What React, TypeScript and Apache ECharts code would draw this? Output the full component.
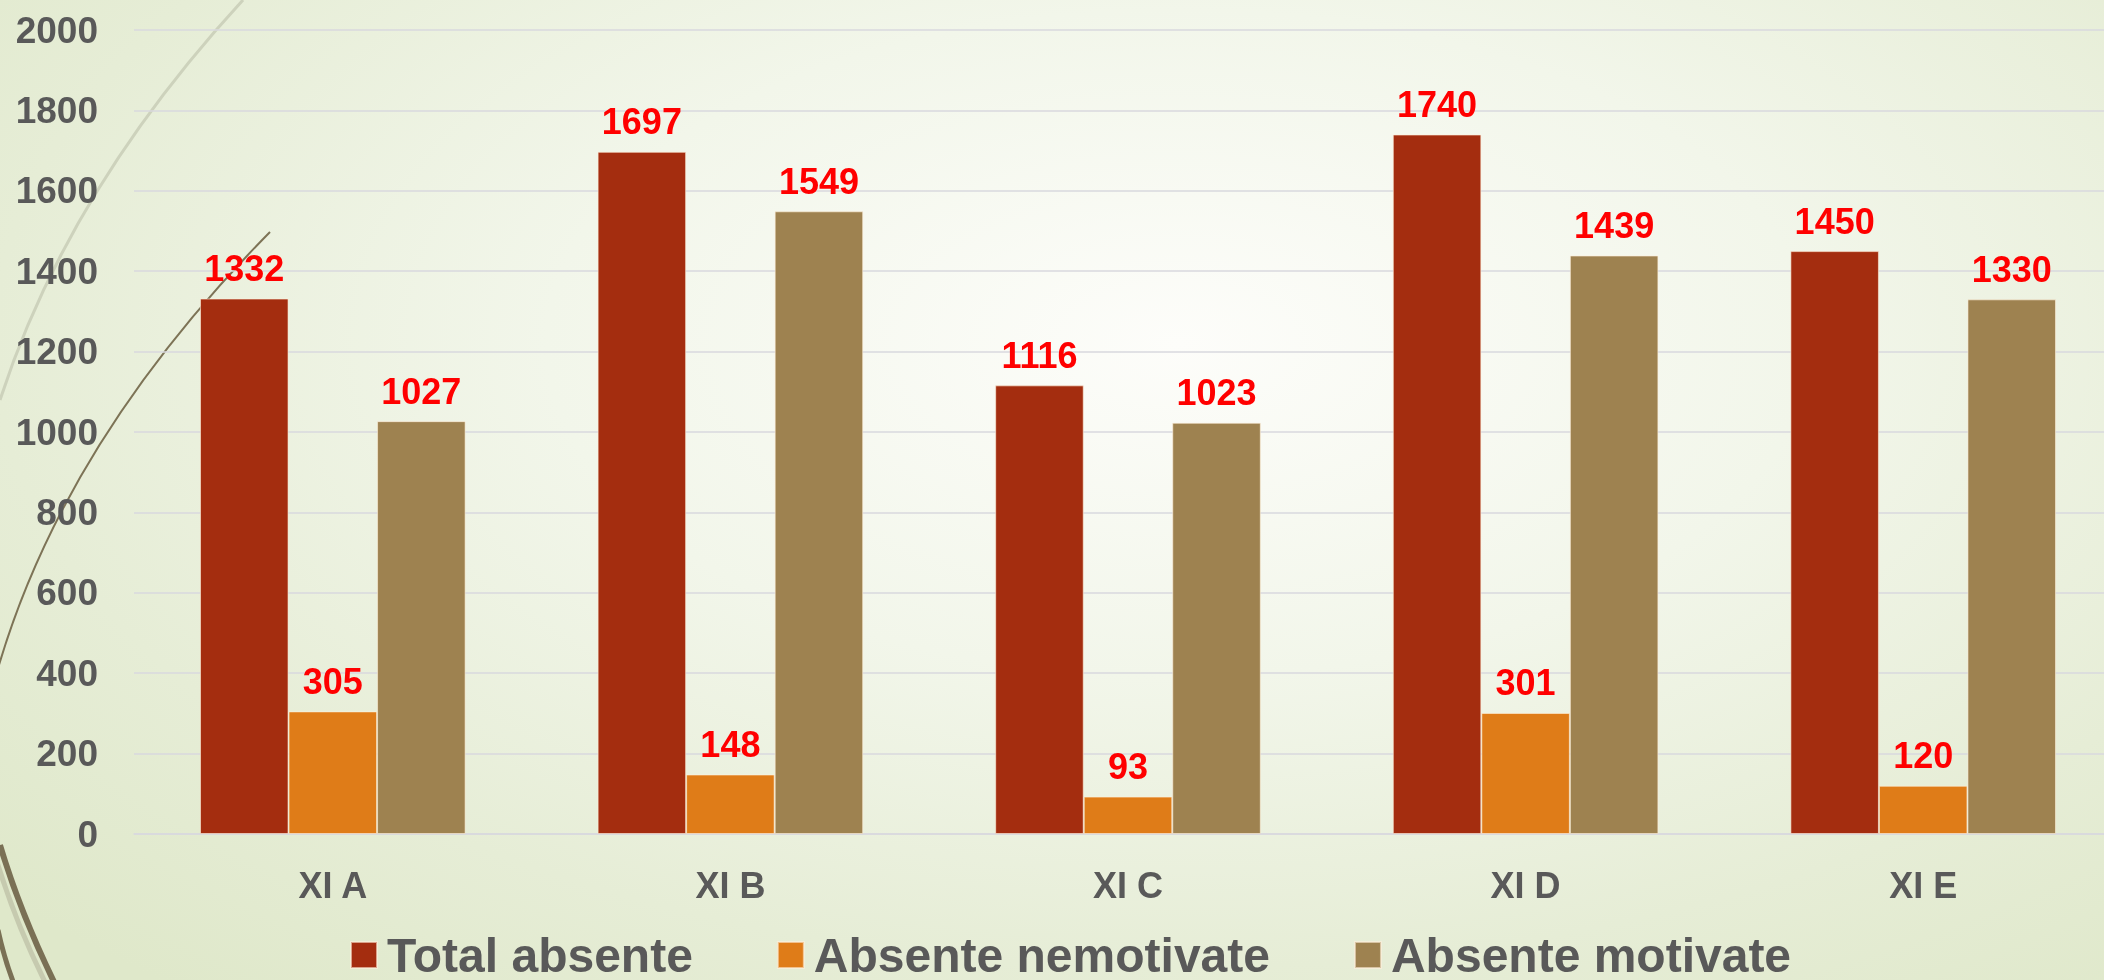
import React, { useEffect, useRef } from "react";
import * as echarts from "echarts";

const categories = ["XI A", "XI B", "XI C", "XI D", "XI E"];
const seriesNames = ["Total absente", "Absente nemotivate", "Absente motivate"];
const totalAbsente = [1332, 1697, 1116, 1740, 1450];
const absenteNemotivate = [305, 148, 93, 301, 120];
const absenteMotivate = [1027, 1549, 1023, 1439, 1330];
const seriesColors = ["#A42D0F", "#DF7C18", "#9E8250"];
const yTicks = { min: 0, max: 2000, interval: 200 };

const FONT = "'Liberation Sans', Arial, sans-serif";

export default function App() {
  const ref = useRef<HTMLDivElement>(null);

  useEffect(() => {
    if (!ref.current) return;
    const chart = echarts.init(ref.current, null, { renderer: "svg" });
    const values = [totalAbsente, absenteNemotivate, absenteMotivate];

    const option: any = {
      animation: false,
      backgroundColor: "transparent",
      grid: {
        left: 134,
        width: 1988,
        top: 30,
        bottom: 146,
        containLabel: false,
        outerBoundsMode: "none",
      },
      xAxis: {
        type: "category",
        data: categories,
        axisLine: { show: true, lineStyle: { color: "#D9D9DE", width: 1.5 } },
        axisTick: { show: false },
        axisLabel: {
          color: "#595959",
          fontSize: 36,
          fontWeight: "bold",
          fontFamily: FONT,
          margin: 33,
        },
      },
      yAxis: {
        type: "value",
        min: yTicks.min,
        max: yTicks.max,
        interval: yTicks.interval,
        axisLine: { show: false },
        axisTick: { show: false },
        splitLine: { lineStyle: { color: "#D9D9DE", width: 1.5 } },
        axisLabel: {
          color: "#595959",
          fontSize: 37,
          fontWeight: "bold",
          fontFamily: FONT,
          margin: 36,
          formatter: (v: number) => String(v),
        },
      },
      legend: {
        show: true,
        left: 350,
        top: 931,
        padding: 0,
        itemWidth: 26,
        itemHeight: 26,
        itemGap: 84,
        icon: "rect",
        data: seriesNames,
        textStyle: {
          color: "#595959",
          fontSize: 48,
          lineHeight: 40,
          fontWeight: "bold",
          fontFamily: FONT,
          padding: [0, 0, 0, 5],
        },
      },
      graphic: [
        {
          type: "bezierCurve",
          z: 0,
          silent: true,
          shape: { x1: 243, y1: 0, x2: 0, y2: 400, cpx1: 68, cpy1: 190 },
          style: { stroke: "#CDD2BC", lineWidth: 3, fill: "none" },
        },
        {
          type: "bezierCurve",
          z: 0,
          silent: true,
          shape: { x1: 270, y1: 232, x2: -8, y2: 690, cpx1: 55, cpy1: 450 },
          style: { stroke: "#7D7356", lineWidth: 2, fill: "none" },
        },
        {
          type: "bezierCurve",
          z: 0,
          silent: true,
          shape: { x1: -6, y1: 852, x2: 46, y2: 984, cpx1: 14, cpy1: 920 },
          style: { stroke: "#C6CAAF", lineWidth: 5, fill: "none" },
        },
        {
          type: "bezierCurve",
          z: 0,
          silent: true,
          shape: { x1: 0, y1: 845, x2: 55, y2: 984, cpx1: 20, cpy1: 912 },
          style: { stroke: "#7A7055", lineWidth: 6, fill: "none" },
        },
        {
          type: "bezierCurve",
          z: 0,
          silent: true,
          shape: { x1: -2, y1: 930, x2: 14, y2: 984, cpx1: 4, cpy1: 958 },
          style: { stroke: "#7A7055", lineWidth: 5, fill: "none" },
        },
      ],
      series: seriesNames.map((name, i) => ({
        name,
        type: "bar",
        data: values[i],
        barGap: "0%",
        barCategoryGap: "33.2%",
        itemStyle: {
          color: seriesColors[i],
          borderColor: "rgba(255,240,220,0.6)",
          borderWidth: 1,
        },
        label: {
          show: true,
          position: "top",
          distance: 12,
          color: "#FF0000",
          fontSize: 36,
          fontWeight: "bold",
          fontFamily: FONT,
        },
      })),
    };

    chart.setOption(option);
    return () => chart.dispose();
  }, []);

  return (
    <div
      style={{
        position: "fixed",
        left: 0,
        top: 0,
        width: 2104,
        height: 980,
        overflow: "hidden",
        background:
          "radial-gradient(ellipse 75% 85% at 56% 35%, #FDFDFA 0%, #F2F6EA 40%, #E6EDD6 75%, #DFE8CA 100%)",
      }}
    >
      <div ref={ref} style={{ width: 2104, height: 980 }} />
    </div>
  );
}
